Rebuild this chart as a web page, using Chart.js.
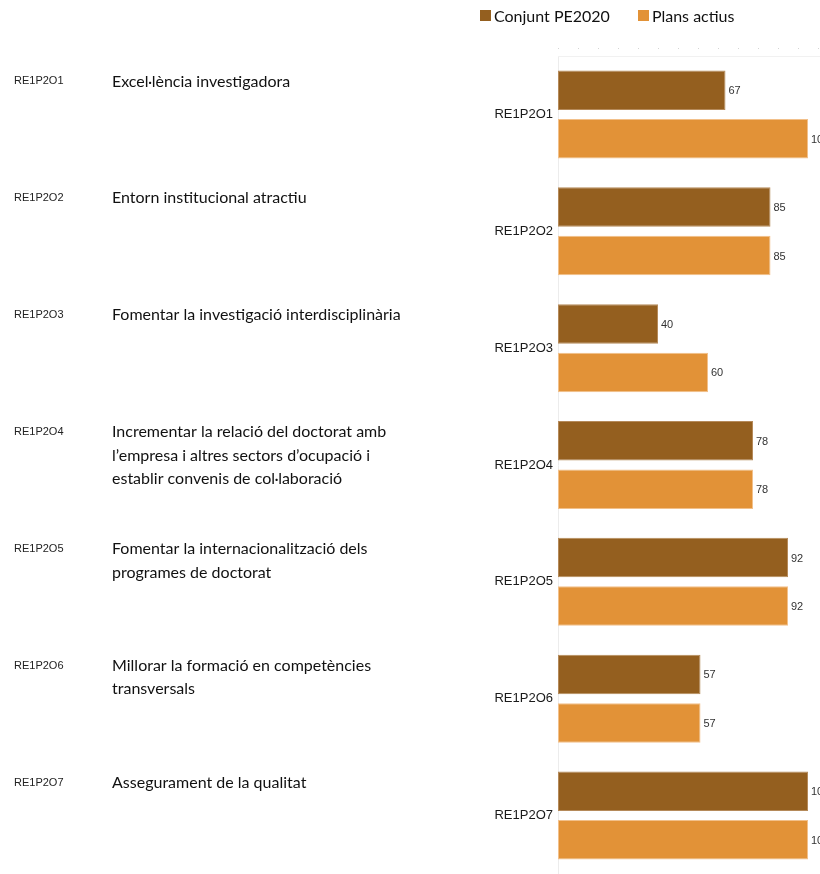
<!DOCTYPE html>
<html lang="ca">
<head>
<meta charset="utf-8">
<title>RE1P2 – Conjunt PE2020 i plans actius</title>
<script src="https://cdn.jsdelivr.net/npm/chart.js@4/dist/chart.umd.min.js"></script>
<style>
  html, body { margin: 0; padding: 0; background: #fff; overflow: hidden; }
  #wrap { position: relative; width: 820px; height: 874px; }
  #chart { position: absolute; left: 0; top: 0; }
  .legend {
    position: absolute; top: 6px; left: 480px;
    font: 16px Lato, "Open Sans", sans-serif; color: #111;
    display: flex; gap: 28px; white-space: nowrap;
  }
  .legend span { display: inline-flex; align-items: center; }
  .legend i { display: inline-block; width: 11px; height: 11px; margin-right: 3px; }
</style>
</head>
<body>
<div id="wrap">
  <canvas id="chart" width="820" height="874"></canvas>
  <div class="legend" id="legend"></div>
</div>
<script>
// ── Data ──
const codes = ['RE1P2O1', 'RE1P2O2', 'RE1P2O3', 'RE1P2O4', 'RE1P2O5', 'RE1P2O6', 'RE1P2O7'];
const descriptions = [
  ['Excel·lència investigadora'],
  ['Entorn institucional atractiu'],
  ['Fomentar la investigació interdisciplinària'],
  ['Incrementar la relació del doctorat amb', 'l’empresa i altres sectors d’ocupació i', 'establir convenis de col·laboració'],
  ['Fomentar la internacionalització dels', 'programes de doctorat'],
  ['Millorar la formació en competències', 'transversals'],
  ['Assegurament de la qualitat']
];
const conjuntPE2020 = [67, 85, 40, 78, 92, 57, 100];
const plansActius   = [100, 85, 60, 78, 92, 57, 100];
const seriesNames   = ['Conjunt PE2020', 'Plans actius'];

const DARK   = '#945F1F';
const ORANGE = '#E29237';

// ── Legend (HTML) ──
document.getElementById('legend').innerHTML =
  `<span><i style="background:${DARK}"></i>${seriesNames[0]}</span>` +
  `<span><i style="background:${ORANGE}"></i>${seriesNames[1]}</span>`;

// ── Extras: value labels, left-hand descriptions, faint frame lines ──
const extras = {
  id: 'extras',
  afterDatasetsDraw(chart) {
    const { ctx, chartArea } = chart;
    const yScale = chart.scales.y;
    ctx.save();

    // faint dotted line above the plot and faint top edge
    ctx.strokeStyle = '#d4d4d4';
    ctx.lineWidth = 1;
    ctx.setLineDash([1, 19]);
    ctx.beginPath();
    ctx.moveTo(chartArea.left, chartArea.top - 7.5);
    ctx.lineTo(chartArea.right, chartArea.top - 7.5);
    ctx.stroke();
    ctx.setLineDash([]);
    ctx.strokeStyle = '#f1f1f1';
    ctx.beginPath();
    ctx.moveTo(chartArea.left, chartArea.top + 0.5);
    ctx.lineTo(chartArea.right, chartArea.top + 0.5);
    ctx.stroke();

    // value labels at the end of each bar
    ctx.font = '11px "Liberation Sans", Arial, sans-serif';
    ctx.fillStyle = '#333';
    ctx.textAlign = 'left';
    ctx.textBaseline = 'middle';
    chart.data.datasets.forEach((ds, di) => {
      chart.getDatasetMeta(di).data.forEach((bar, i) => {
        ctx.fillText(ds.data[i], bar.x + 3, bar.y + 1);
      });
    });

    // code + description on the left of each row
    codes.forEach((code, i) => {
      const top = yScale.getPixelForValue(i) - 33;
      ctx.font = '11px "Liberation Sans", Arial, sans-serif';
      ctx.fillStyle = '#222';
      ctx.fillText(code, 14, top);
      ctx.font = '16px Lato, "Open Sans", sans-serif';
      ctx.fillStyle = '#111';
      descriptions[i].forEach((line, k) => {
        ctx.fillText(line, 112, top + k * 23.5);
      });
    });
    ctx.restore();
  }
};

// ── Chart ──
new Chart(document.getElementById('chart').getContext('2d'), {
  type: 'bar',
  data: {
    labels: codes,
    datasets: [
      {
        label: seriesNames[0],
        data: conjuntPE2020,
        backgroundColor: DARK,
        borderColor: '#b58a5a',
        borderWidth: 1,
        borderSkipped: false
      },
      {
        label: seriesNames[1],
        data: plansActius,
        backgroundColor: ORANGE,
        borderColor: '#f2c08a',
        borderWidth: 1,
        borderSkipped: false
      }
    ]
  },
  options: {
    indexAxis: 'y',
    responsive: false,
    animation: false,
    datasets: { bar: { categoryPercentage: 0.83, barPercentage: 0.815 } },
    layout: { padding: { top: 56, left: 0, right: 0, bottom: 0 } },
    plugins: {
      legend: { display: false },
      tooltip: { enabled: false }
    },
    scales: {
      x: { display: false, min: 0, max: 104.8 },
      y: {
        afterFit: scale => {
          scale.width = 558;
          scale.paddingTop = 0;
          scale.paddingBottom = 0;
        },
        grid: { display: false, drawTicks: false },
        border: { display: true, color: '#ececec' },
        ticks: {
          padding: 5,
          color: '#1a1a1a',
          font: { family: '"Liberation Sans", Arial, sans-serif', size: 13 }
        }
      }
    }
  },
  plugins: [extras]
});
</script>
</body>
</html>
